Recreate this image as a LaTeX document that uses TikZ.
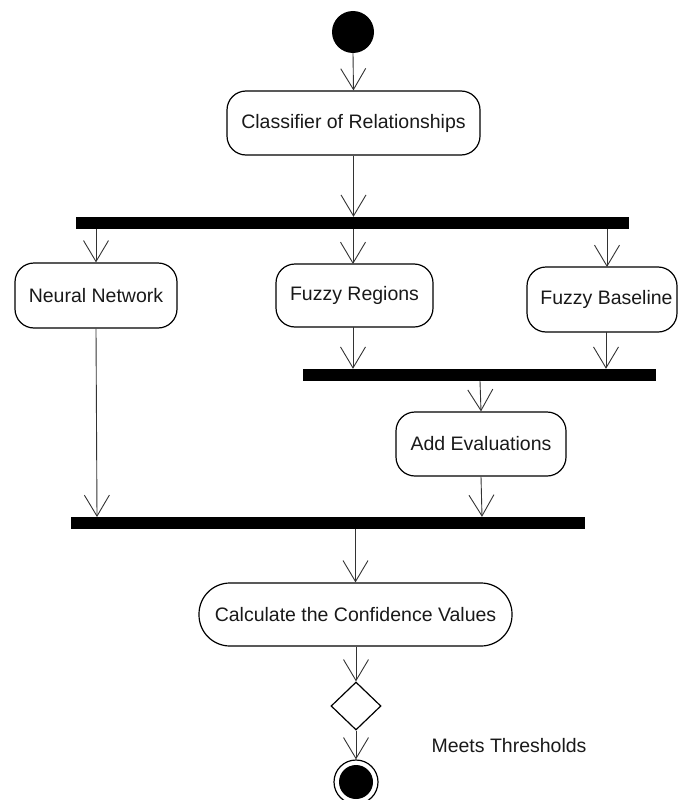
\documentclass[tikz,border=0pt]{standalone}
\usepackage{fontspec}
\setmainfont{Liberation Sans}
\usetikzlibrary{arrows.meta,shapes.geometric}
\begin{document}
\begin{tikzpicture}[x=1pt,y=-1pt,
  every node/.style={font=\fontsize{19.5}{23}\selectfont, text=black!90},
  act/.style={draw, line width=1.2pt, rounded corners=19pt, inner sep=0pt},
  bar/.style={fill=black, draw=none, inner sep=0pt, minimum height=12pt},
  flow/.style={line width=0.9pt, draw=black!80, -{Straight Barb[length=21pt,width=25pt,line width=0.9pt]}},
  line/.style={line width=0.9pt, draw=black!80}
]
\useasboundingbox (0,0) rectangle (678,800);

% start
\node[circle, fill=black, minimum size=42pt, inner sep=0pt] (start) at (353,32) {};

% classifier
\node[act, minimum width=253pt, minimum height=64pt] (cls) at (353.5,123) {Classifier of Relationships};

% fork bar 1
\node[bar, minimum width=553pt] (bar1) at (352.5,223) {};

% branches
\node[act, minimum width=162pt, minimum height=65pt] (nn) at (96,295.5) {Neural Network};
\node[act, minimum width=157pt, minimum height=63pt] (fr) at (354.5,295.5) {Fuzzy Regions};
\node[act, minimum width=150pt, minimum height=65pt] (fb) at (602,299.5) {};
\node (fbt) at (606.5,299.5) {Fuzzy Baseline};

% join bar 2
\node[bar, minimum width=353pt] (bar2) at (479.5,375) {};

% add evaluations
\node[act, minimum width=170pt, minimum height=64pt] (ae) at (481,444) {Add Evaluations};

% join bar 3
\node[bar, minimum width=514pt] (bar3) at (328,523) {};

% calculate
\node[act, rounded corners=31pt, minimum width=313pt, minimum height=63pt] (calc) at (355.5,614.5) {Calculate the Confidence Values};

% decision
\node[diamond, draw, line width=1.2pt, minimum width=50pt, minimum height=48pt, inner sep=0pt] (dec) at (356,706) {};

% final
\node[circle, draw, line width=1.2pt, minimum size=44pt, inner sep=0pt] (fin) at (356,782) {};
\node[circle, fill=black, minimum size=34pt, inner sep=0pt] (finin) at (fin.center) {};

\node[anchor=west] (meets) at (428,746) {Meets Thresholds};

% connectors
\draw[flow] (start.south) -- (cls.north);
\draw[flow] (cls.south) -- (cls.south |- bar1.north);
\draw[flow] (bar1.south -| nn.north) -- (nn.north);
\draw[flow] (bar1.south -| 353,0) -- (353,264);
\draw[flow] (bar1.south -| 607,0) -- (607,267);
\draw[flow] (nn.south) -- (97,517);
\draw[flow] (353,327) -- (bar2.north -| 353,0);
\draw[flow] (606,332) -- (bar2.north -| 606,0);
\draw[flow] (bar2.south -| 480,0) -- (ae.north);
\draw[flow] (ae.south) -- (bar3.north -| 482,0);
\draw[flow] (bar3.south -| calc.north) -- (calc.north);
\draw[flow] (calc.south -| dec.north) -- (dec.north);
\draw[flow] (dec.south) -- (fin.north);
\end{tikzpicture}
\end{document}
